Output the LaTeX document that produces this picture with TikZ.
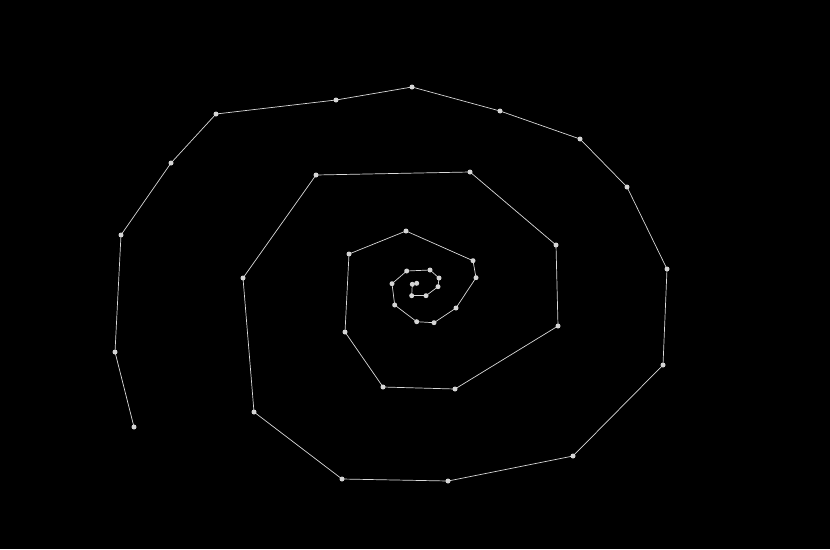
\documentclass[tikz,border=0pt]{standalone}
\begin{document}
\begin{tikzpicture}[x=1pt,y=-1pt,
  pt/.style={circle,fill=black!17!white,inner sep=0pt,minimum size=5pt},
  seg/.style={draw=black!15!white,line width=0.7pt}]
\fill[black] (0,0) rectangle (830,549);
\useasboundingbox (0,0) rectangle (830,549);
\foreach \x/\y [count=\i] in {
 416.7/283.3, 412.3/284.3, 411.7/295.7, 426/295.7, 438/286.7, 439/278,
 430/270, 406.7/271, 392/283.7, 394.7/305, 416.7/321.7, 434/322.7,
 456/308, 476/277.7, 473/260.7, 406/231, 349/254, 345/332, 383/387,
 455/389, 558/326, 556/245, 470/172, 316/175, 243/278, 254/412,
 342/479, 448/481, 573/456, 663/365, 667/269, 627/187, 580/139,
 500/111, 412/87, 336/100, 216/114, 171/163, 121/235, 115/352, 134/427}
 { \node[pt] (p\i) at (\x,\y) {}; }
\foreach \i [evaluate=\i as \j using int(\i+1)] in {1,...,40}
 { \draw[seg] (p\i.center) -- (p\j.center); }
\end{tikzpicture}
\end{document}
